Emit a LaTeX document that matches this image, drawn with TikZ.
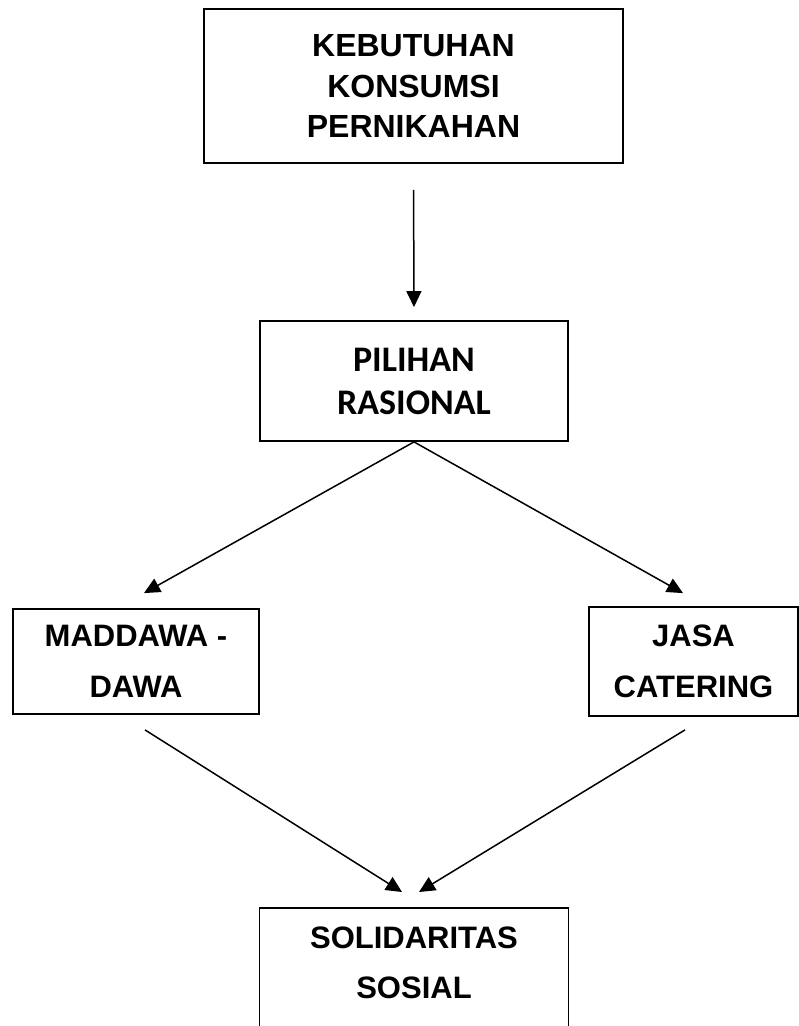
\documentclass[tikz,border=0pt]{standalone}
\usepackage{fontspec}
\setmainfont{Liberation Sans}
\newfontfamily\calibfont{Carlito}
\usetikzlibrary{arrows.meta}

\begin{document}
\begin{tikzpicture}[x=1pt,y=-1pt,
  box/.style={draw=black,line width=1.8pt,align=center,font=\bfseries\fontsize{31}{51}\selectfont,inner sep=0pt},
  arr/.style={line width=1.5pt,-{Triangle[length=16pt,width=15pt]}}]
\useasboundingbox (0,0) rectangle (799,1026);
% boxes
\node[box,minimum width=419,minimum height=154,font=\bfseries\fontsize{32}{40.5}\selectfont] (keb) at (413.5,86) {KEBUTUHAN\\KONSUMSI\\PERNIKAHAN};
\node[box,minimum width=308,minimum height=120,font=\calibfont\bfseries\fontsize{36}{43}\selectfont] (pil) at (414,381) {PILIHAN\\RASIONAL};
\node[box,minimum width=246,minimum height=105] (mad) at (136,661.5) {MADDAWA -\\DAWA};
\node[box,minimum width=209,minimum height=109] (jas) at (693.5,661.5) {JASA\\CATERING};
\node[box,minimum width=309,minimum height=140,anchor=north] (sol) at (414,907) {};
\node[font=\bfseries\fontsize{31}{50}\selectfont,align=center,inner sep=0pt] (soltxt) at (414,963) {SOLIDARITAS\\SOSIAL};
% arrows
\draw[arr,shorten <=26pt,shorten >=13pt] (keb.south) -- (pil.north);
\draw[arr] (pil.south) -- ([xshift=8pt,yshift=15pt]mad.north);
\draw[arr] (pil.south) -- ([xshift=-10.5pt,yshift=13pt]jas.north);
\draw[arr] ([xshift=9pt,yshift=-15pt]mad.south) -- ([xshift=-12pt,yshift=15pt]sol.north);
\draw[arr] ([xshift=-8.5pt,yshift=-13pt]jas.south) -- ([xshift=5pt,yshift=15pt]sol.north);
\end{tikzpicture}
\end{document}
